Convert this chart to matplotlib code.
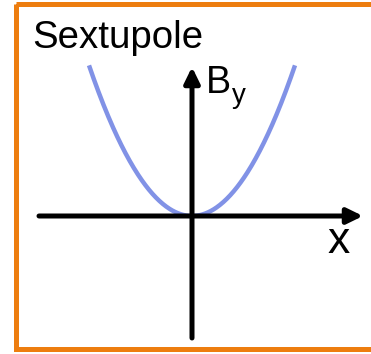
import numpy as np
import matplotlib
matplotlib.use("Agg")
import matplotlib.pyplot as plt
from matplotlib.patches import Rectangle

# ---- data (schematic sextupole field: B_y proportional to x^2) ----
x_range = [-1.03, 1.03]          # extent of the drawn curve (axis units)
curve_coeff = 1.42               # B_y = coeff * x^2
title_text = "Sextupole"
y_label_main = "B"
y_label_sub = "y"
x_label = "x"

x_vals = np.linspace(x_range[0], x_range[1], 300)
By_vals = curve_coeff * x_vals ** 2

W, H = 371, 354
fig = plt.figure(figsize=(W / 100, H / 100), dpi=100)
fig.patch.set_facecolor("white")

# background axes in pixel coordinates (frame + text)
bg = fig.add_axes([0, 0, 1, 1])
bg.set_xlim(0, W)
bg.set_ylim(H, 0)
bg.axis("off")

orange = "#ED7D0F"
bg.add_patch(Rectangle((15.5, 4), 400, 344.5, fill=False, ec=orange, lw=3.6))

font = "Liberation Sans"
bg.text(32, 48.5, title_text, fontsize=27.6, family=font, va="baseline", ha="left", color="black")
bg.text(206, 93, y_label_main, fontsize=27, family=font, va="baseline", ha="left", color="black")
bg.text(232, 103, y_label_sub, fontsize=20, family=font, va="baseline", ha="left", color="black")
bg.text(328, 253, x_label, fontsize=32, family=font, va="baseline", ha="left", color="black")

# plot axes in data coordinates: origin at pixel (192, 216), 100 px per unit
ox, oy, s = 192, 216, 100.0
ax = fig.add_axes([0, 0, 1, 1])
ax.patch.set_alpha(0)
ax.set_xlim(-ox / s, (W - ox) / s)
ax.set_ylim(-(H - oy) / s, oy / s)
ax.axis("off")

ax.plot(x_vals, By_vals, color="#8192E6", lw=3.2, solid_capstyle="butt", zorder=2)

arrow_kw = dict(arrowstyle="-|>,head_length=0.47,head_width=0.23", color="black",
                lw=3.6, mutation_scale=20, shrinkA=0, shrinkB=0)
ax.annotate("", xy=(1.71, 0), xytext=(-1.53, 0), arrowprops=arrow_kw, zorder=3)
ax.annotate("", xy=(0, 1.49), xytext=(0, -1.22), arrowprops=arrow_kw, zorder=3)

fig.savefig("out.png", dpi=100)
